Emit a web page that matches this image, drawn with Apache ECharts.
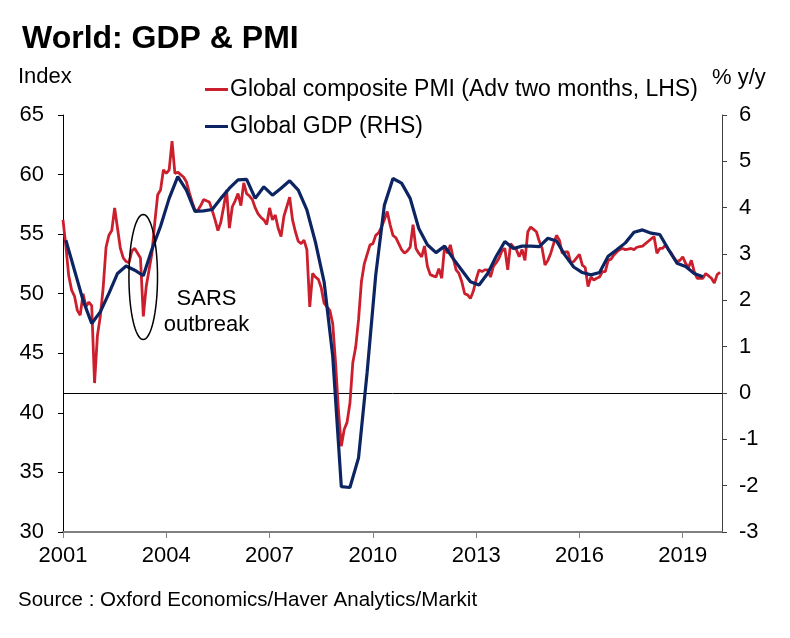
<!DOCTYPE html>
<html>
<head>
<meta charset="utf-8">
<script src="https://cdn.jsdelivr.net/npm/echarts@6/dist/echarts.min.js"></script>
<style>
html,body{margin:0;padding:0;background:#fff;}
#chart{width:790px;height:638px;}
</style>
</head>
<body>
<div id="chart"></div>
<script>
// Global composite PMI (monthly, Jan 2001 - Feb 2020), left axis
const pmi = [
  56.2, 54.0, 51.5, 50.3, 49.8, 48.6, 48.2, 50.0, 48.9, 49.3, 49.0, 42.5,
  46.5, 48.1, 50.5, 53.9, 54.9, 55.3, 57.2, 55.5, 53.8, 53.0, 52.7, 52.6,
  53.6, 53.8, 53.4, 53.0, 48.1, 50.6, 52.0, 53.4, 56.0, 58.3, 58.7, 60.4,
  60.1, 60.4, 62.8, 60.1, 60.2, 60.0, 59.8, 59.4, 58.5, 57.7, 57.0, 57.0,
  57.4, 57.9, 57.8, 57.7, 57.0, 56.2, 55.3, 56.0, 57.3, 58.7, 55.5, 57.3,
  57.8, 58.4, 57.4, 59.3, 58.4, 58.2, 57.9, 57.2, 56.7, 56.4, 56.2, 55.8,
  57.2, 56.2, 56.6, 55.5, 54.8, 56.5, 57.3, 58.1, 56.2, 55.2, 54.4, 54.2,
  54.5, 53.7, 48.9, 51.7, 51.4, 51.2, 50.5, 49.2, 48.9, 48.6, 47.5, 44.2,
  40.2, 37.2, 38.6, 39.2, 40.8, 44.2, 45.5, 47.8, 51.0, 52.5, 53.3, 54.1,
  54.2, 54.9, 55.1, 55.6, 56.2, 56.9, 55.8, 54.9, 54.7, 54.2, 53.7, 53.4,
  53.6, 53.9, 55.8, 53.8, 53.4, 53.1, 54.0, 52.3, 51.6, 51.5, 51.4, 52.1,
  51.3, 54.0, 53.4, 54.1, 53.0, 52.0, 51.7, 51.0, 50.0, 49.9, 49.6, 50.2,
  51.2, 52.0, 51.85, 52.0, 52.0, 51.4, 52.3, 52.6, 53.0, 53.6, 53.8, 52.0,
  54.2, 53.9, 53.7, 53.1, 53.7, 52.8, 55.2, 55.6, 55.4, 55.2, 54.4, 53.8,
  52.4, 52.8, 53.4, 54.2, 54.9, 54.5, 53.4, 53.5, 53.5, 52.6, 52.7, 53.0,
  53.3, 52.4, 52.2, 50.6, 51.4, 51.15, 51.3, 51.4, 51.85, 51.85, 52.8, 52.9,
  53.25, 53.5, 53.7, 53.8, 53.7, 53.75, 53.8, 53.7, 53.9, 53.95, 54.0, 54.2,
  54.4, 54.6, 54.8, 53.4, 53.8, 53.8, 54.1, 53.7, 53.4, 53.0, 52.7, 52.8,
  53.1, 52.55, 52.2, 52.8, 51.85, 51.3, 51.3, 51.3, 51.7, 51.5, 51.3, 50.9,
  51.6, 51.8
];
// Global GDP % y/y (quarterly, 2001Q1 - 2019Q3), right axis
const gdp = [
  3.3, 2.65, 2.0, 1.5,
  1.75, 2.15, 2.58, 2.74,
  2.65, 2.53, 3.1, 3.6,
  4.2, 4.67, 4.38, 3.92,
  3.93, 3.96, 4.2, 4.42,
  4.6, 4.61, 4.2, 4.45,
  4.27, 4.42, 4.58, 4.38,
  3.95, 3.25, 2.4, 0.8,
  -2.02, -2.04, -1.4, 0.45,
  2.55, 4.05, 4.63, 4.53,
  4.2, 3.55, 3.2, 3.03,
  3.17, 2.9, 2.65, 2.4,
  2.33, 2.58, 2.95, 3.27,
  3.12, 3.17, 3.17, 3.16,
  3.34, 3.28, 2.97, 2.72,
  2.6, 2.55, 2.6, 2.95,
  3.09, 3.24, 3.47, 3.52,
  3.45, 3.42, 3.1, 2.8,
  2.73, 2.58, 2.51
];
const startYear = 2001;
const seriesNames = ['Global composite PMI (Adv two months, LHS)', 'Global GDP (RHS)'];
const titleText = 'World: GDP & PMI';
const leftUnit = 'Index';
const rightUnit = '% y/y';
const sourceText = 'Source : Oxford Economics/Haver Analytics/Markit';
const annotation = ['SARS', 'outbreak'];

const FONT = 'Liberation Sans, Arial, sans-serif';
const pmiData = pmi.map((v, i) => [startYear + i / 12, v]);
const gdpData = gdp.map((v, i) => [startYear + (3 * i + 1) / 12, v]);

const chart = echarts.init(document.getElementById('chart'), null, {renderer: 'canvas'});
const axisLabelStyle = {color: '#000', fontSize: 22, fontFamily: FONT};
const option = {
  backgroundColor: '#fff',
  animation: false,
  title: {
    text: titleText, left: 17, top: 18,
    textStyle: {fontSize: 32, fontWeight: 'bold', color: '#000', fontFamily: FONT}
  },
  legend: {
    data: seriesNames,
    orient: 'vertical', left: 200, top: 73,
    itemWidth: 23, itemHeight: 3, itemGap: 14, icon: 'rect',
    textStyle: {fontSize: 23, color: '#000', fontFamily: FONT, padding: [0, 0, 0, -3]},
    selectedMode: false
  },
  grid: {left: 63, right: 68, top: 115, bottom: 106, containLabel: false},
  xAxis: {
    type: 'value', min: 2001, max: 2020.14, interval: 3,
    axisLine: {show: true, onZero: false, lineStyle: {color: '#808080', width: 2}},
    axisTick: {show: true, inside: false, length: 6, lineStyle: {color: '#808080', width: 1}},
    axisLabel: Object.assign({margin: 13, showMaxLabel: false, formatter: v => String(v)}, axisLabelStyle),
    splitLine: {show: false}
  },
  yAxis: [
    {
      type: 'value', min: 30, max: 65, interval: 5, position: 'left',
      axisLine: {show: true, lineStyle: {color: '#000', width: 1}},
      axisTick: {show: true, inside: false, length: 5, lineStyle: {color: '#000'}},
      axisLabel: Object.assign({margin: 19}, axisLabelStyle),
      splitLine: {show: false}
    },
    {
      type: 'value', min: -3, max: 6, interval: 1, position: 'right',
      axisLine: {show: true, lineStyle: {color: '#404040', width: 1}},
      axisTick: {show: true, inside: false, length: 5, lineStyle: {color: '#404040'}},
      axisLabel: Object.assign({margin: 17}, axisLabelStyle),
      splitLine: {show: false}
    }
  ],
  series: [
    {
      name: seriesNames[0], type: 'line', yAxisIndex: 0, data: pmiData,
      showSymbol: false, symbol: 'none',
      lineStyle: {color: '#cc1f2d', width: 2.8}, itemStyle: {color: '#cc1f2d'}, z: 2
    },
    {
      name: seriesNames[1], type: 'line', yAxisIndex: 1, data: gdpData,
      showSymbol: false, symbol: 'none',
      lineStyle: {color: '#0c2461', width: 3.2}, itemStyle: {color: '#0c2461'}, z: 3,
      markLine: {
        silent: true, symbol: ['none', 'none'], label: {show: false},
        lineStyle: {color: '#000', width: 1, type: 'solid'},
        data: [{yAxis: 0}], z: 1
      }
    }
  ]
};
chart.setOption(option);

// Annotation: ellipse around the SARS dip, placed in data space
const ellCenter = [2003.33, 51.4];
const ellR = [0.415, 5.25];
const pts = [];
for (let k = 0; k <= 72; k++) {
  const a = k / 72 * Math.PI * 2;
  const p = chart.convertToPixel({xAxisIndex: 0, yAxisIndex: 0},
    [ellCenter[0] + ellR[0] * Math.cos(a), ellCenter[1] + ellR[1] * Math.sin(a)]);
  pts.push(p);
}
chart.setOption({
  graphic: [
    {type: 'polyline', shape: {points: pts}, style: {stroke: '#000', lineWidth: 1.5, fill: null}, z: 10, silent: true},
    {type: 'text', x: 18, y: 77, style: {text: leftUnit, font: '22px ' + FONT, fill: '#000', textVerticalAlign: 'middle'}},
    {type: 'text', x: 712, y: 78, style: {text: rightUnit, font: '22px ' + FONT, fill: '#000', textVerticalAlign: 'middle'}},
    {type: 'text', x: 18, y: 600, style: {text: sourceText, font: '20.5px ' + FONT, fill: '#000', textVerticalAlign: 'middle'}},
    {type: 'text', x: 206.5, y: 299, style: {text: annotation[0], font: '22px ' + FONT, fill: '#000', textAlign: 'center', textVerticalAlign: 'middle'}},
    {type: 'text', x: 206.5, y: 325, style: {text: annotation[1], font: '22px ' + FONT, fill: '#000', textAlign: 'center', textVerticalAlign: 'middle'}}
  ]
});
</script>
</body>
</html>
